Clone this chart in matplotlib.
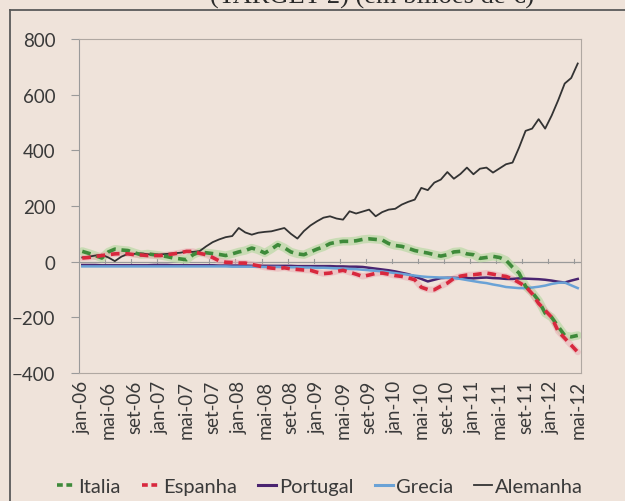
import numpy as np
import matplotlib
matplotlib.use("Agg")
import matplotlib.pyplot as plt
from matplotlib.lines import Line2D

plt.rcParams["font.family"] = ["Lato", "DejaVu Sans"]

# monthly, jan-06 .. mai-12 (77 months), em bilioes de euro
months = ["jan", "fev", "mar", "abr", "mai", "jun", "jul", "ago", "set", "out", "nov", "dez"]
labels = [f"{months[i % 12]}-{6 + i // 12:02d}" for i in range(77)]

italia = [37, 30, 22, 13, 35, 45, 42, 40, 32, 25, 28, 25, 22, 18, 13, 10, 7, 25, 35, 32,
          29, 26, 22, 28, 35, 40, 49, 42, 31, 45, 61, 50, 35, 28, 25, 35, 45, 53, 65, 70,
          73, 73, 75, 80, 82, 80, 78, 65, 58, 55, 48, 40, 35, 31, 25, 20, 25, 35, 37, 28,
          25, 12, 15, 19, 15, 5, -20, -41, -89, -110, -140, -185, -200, -233, -265, -270, -265]
espanha = [13, 15, 18, 22, 25, 28, 29, 28, 25, 24, 22, 22, 22, 25, 28, 32, 37, 37, 30, 25,
           15, 3, -2, -3, -5, -5, -10, -15, -20, -23, -25, -22, -26, -28, -30, -31, -38, -43, -41, -35,
           -31, -38, -45, -53, -48, -42, -41, -45, -50, -53, -58, -65, -92, -100, -101, -88, -77, -60, -52, -48,
           -47, -44, -41, -45, -50, -53, -62, -75, -89, -115, -150, -175, -200, -250, -275, -300, -325]
portugal = [-12, -12, -12, -13, -13, -13, -13, -13, -13, -13, -13, -12, -12, -12, -13, -13, -13, -13, -13, -13,
            -13, -14, -14, -14, -14, -14, -15, -15, -15, -15, -15, -15, -15, -16, -16, -16, -16, -16, -16, -17,
            -17, -18, -18, -19, -22, -25, -28, -31, -35, -40, -45, -53, -62, -71, -65, -59, -58, -58, -59, -59,
            -60, -58, -57, -59, -60, -62, -62, -60, -61, -62, -63, -65, -68, -72, -75, -68, -62]
grecia = [-17, -17, -17, -17, -17, -17, -17, -17, -17, -17, -17, -17, -17, -17, -17, -17, -17, -17, -17, -17,
          -17, -17, -17, -18, -18, -18, -18, -18, -19, -19, -19, -20, -20, -20, -21, -21, -22, -22, -23, -24,
          -25, -26, -27, -29, -31, -33, -35, -38, -41, -44, -47, -50, -53, -55, -56, -57, -58, -59, -62, -66,
          -70, -74, -77, -82, -86, -91, -93, -95, -95, -93, -90, -86, -80, -76, -75, -85, -95]
alemanha = [15, 18, 22, 25, 15, 2, 18, 28, 28, 30, 27, 25, 26, 28, 30, 32, 36, 35, 38, 55,
            70, 80, 88, 92, 121, 105, 97, 104, 107, 109, 115, 121, 100, 83, 110, 130, 145, 158, 163, 155,
            151, 181, 173, 180, 187, 163, 178, 187, 190, 205, 215, 223, 265, 257, 284, 295, 322, 298, 315, 338,
            314, 334, 338, 320, 335, 350, 356, 410, 470, 478, 512, 478, 525, 580, 640, 660, 712]

BG = "#efe3da"
TXT = "#3a3a3a"
AX = "#9a9a9a"

fig = plt.figure(figsize=(6.25, 5.02), dpi=100, facecolor=BG)
ax = fig.add_axes([79 / 625, 1 - 374 / 502, (581 - 79) / 625, (374 - 40) / 502])
ax.set_facecolor(BG)

x = np.arange(len(labels))

# zero axis line with category tick marks
ax.axhline(0, color=AX, lw=0.9, zorder=1)
for k in range(0, 80, 4):
    ax.plot([k - 0.5, k - 0.5], [-6, 10], color=AX, lw=0.8, zorder=1)

ax.plot(x, italia, color="#b9d9a4", lw=6, alpha=0.7, solid_capstyle="round", zorder=2)
ax.plot(x, espanha, color="#e9a9b0", lw=4.5, alpha=0.5, solid_capstyle="round", zorder=2)
ax.plot(x, portugal, color="#4a2470", lw=1.8, zorder=3)
ax.plot(x, grecia, color="#6aa2d6", lw=1.8, zorder=3)
ax.plot(x, alemanha, color="#333333", lw=1.3, zorder=4)
ax.plot(x, italia, color="#3e8a3a", lw=2.6, dashes=(2.4, 1.6), zorder=5)
ax.plot(x, espanha, color="#d8283e", lw=2.6, dashes=(2.4, 1.6), zorder=5)

ax.set_xlim(-0.5, 76.5)
ax.set_ylim(-400, 800)
ax.set_yticks(range(-400, 801, 200))
ax.set_xticks(x[::4])
ax.set_xticklabels(labels[::4], rotation=90)
ax.tick_params(axis="y", length=6, width=0.8, color=AX, labelsize=13.5, labelcolor=TXT, pad=11)
ax.tick_params(axis="x", length=0, labelsize=13.5, labelcolor=TXT, pad=5)
for s in ax.spines.values():
    s.set_color("#b0a8a2")
    s.set_linewidth(0.8)
ax.spines["left"].set_color(AX)

handles = [
    Line2D([], [], color="#3e8a3a", lw=2.6, dashes=(1.6, 1.0)),
    Line2D([], [], color="#d8283e", lw=2.6, dashes=(1.6, 1.0)),
    Line2D([], [], color="#4a2470", lw=2.2),
    Line2D([], [], color="#6aa2d6", lw=2.2),
    Line2D([], [], color="#333333", lw=1.3),
]
fig.legend(handles, ["Italia", "Espanha", "Portugal", "Grecia", "Alemanha"],
           loc="center", bbox_to_anchor=(0.512, 1 - 487 / 502), ncol=5, frameon=False,
           fontsize=14.5, handlelength=0.9, handletextpad=0.15, columnspacing=1.05,
           labelcolor=TXT)

# outer frame and title (clipped at the top, as in the source scan)
fig.add_artist(Line2D([10 / 625, 10 / 625], [0, 1 - 11 / 502], transform=fig.transFigure,
                      color="#5a5a5a", lw=1.3))
fig.add_artist(Line2D([10 / 625, 1], [1 - 11 / 502, 1 - 11 / 502], transform=fig.transFigure,
                      color="#5a5a5a", lw=1.3))
fig.text(372 / 625, 1 - 4 / 502, "(TARGET 2) (em biliões de €)", ha="center", va="baseline",
         fontsize=19, family="Liberation Serif", color="#2a2a2a")

fig.savefig("out.png", dpi=100, facecolor=BG)
